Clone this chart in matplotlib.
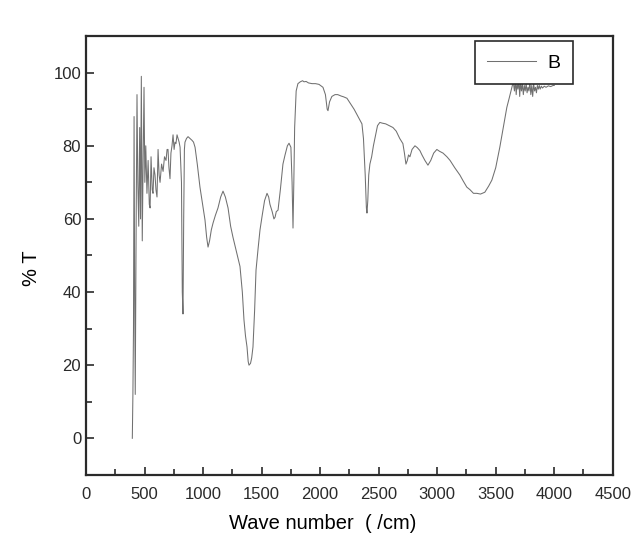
import matplotlib
matplotlib.use("Agg")
import matplotlib.pyplot as plt
from matplotlib.ticker import MultipleLocator

plt.rcParams['font.family'] = ['Liberation Sans', 'DejaVu Sans']

# IR transmission spectrum, series "B"
wavenumber = [
    395, 400, 405, 410, 415, 420, 428, 435, 442, 450, 458, 465, 472, 480, 487, 495,
    502, 510, 520, 530, 540, 547, 555, 565, 572, 580, 589, 597, 606, 615, 624, 632,
    645, 658, 670, 683, 692, 700, 708, 717, 725, 734, 743, 752, 760, 768, 777, 786,
    795, 803, 815, 822, 828, 834, 840, 845, 858, 871, 888, 905, 918, 931, 950, 973,
    995, 1016, 1030, 1042, 1055, 1070, 1085, 1105, 1127, 1150, 1170, 1190, 1213,
    1235, 1255, 1285, 1315, 1335, 1349, 1362, 1375, 1385, 1392, 1405, 1415, 1426,
    1440, 1452, 1470, 1486, 1505, 1525, 1546, 1560, 1571, 1590, 1605, 1615, 1625,
    1640, 1660, 1682, 1700, 1720, 1734, 1750, 1760, 1768, 1775, 1782, 1795, 1810,
    1830, 1850, 1862, 1880, 1900, 1930, 1960, 1990, 2024, 2045, 2060, 2067, 2080,
    2100, 2127, 2150, 2180, 2200, 2229, 2260, 2290, 2323, 2340, 2357, 2370, 2385,
    2395, 2400, 2407, 2415, 2425, 2440, 2455, 2468, 2490, 2510, 2530, 2560, 2590,
    2622, 2650, 2680, 2707, 2720, 2733, 2745, 2755, 2767, 2785, 2810, 2830, 2852,
    2870, 2895, 2921, 2945, 2970, 2997, 3020, 3050, 3083, 3110, 3150, 3194, 3220,
    3253, 3280, 3310, 3339, 3370, 3407, 3440, 3467, 3500, 3535, 3565, 3595, 3615,
    3638, 3650, 3660, 3668, 3675, 3682, 3690, 3698, 3705, 3712, 3720, 3728, 3736,
    3744, 3752, 3760, 3768, 3776, 3784, 3792, 3800, 3808, 3816, 3824, 3832, 3840,
    3848, 3856, 3864, 3872, 3880, 3890, 3900, 3915, 3930, 3950, 3970, 3990, 4000,
]
transmittance = [
    0, 12, 30, 88, 40, 12, 60, 94, 70, 58, 85, 60, 99, 54, 75, 96,
    70, 80, 67, 76, 64, 63, 77, 68, 67, 74, 72, 68, 66, 79, 72, 70,
    75, 73, 77, 76, 79, 79, 74, 71, 78, 80, 83, 79, 81, 80.6, 83, 82,
    81, 79.6, 70, 40, 34, 60, 79, 81, 82, 82.5, 82, 81.5, 81, 79.6, 75, 68.7,
    64, 59.7, 55, 52.3, 54, 57, 58.9, 61, 63, 66, 67.6, 66, 63,
    58, 55, 51, 47, 40, 32.4, 28, 25, 21, 20, 20.5, 22, 25,
    35, 46, 52, 57, 61, 65, 67, 66, 64, 62, 60, 60.5, 62,
    62.4, 68, 75, 77.5, 80, 80.7, 79.6, 70, 57.5, 70, 85, 95, 97,
    97.5, 97.8, 97.5, 97.6, 97.2, 97, 97, 96.8, 96, 94, 90, 89.6, 92,
    93.5, 94, 94, 93.6, 93.4, 93, 91.5, 90, 88, 87, 86, 82, 72,
    63, 61.6, 65, 72, 75, 77, 80, 82, 85.5, 86.4, 86.2, 86, 85.5,
    85, 84, 82, 80.6, 78, 75, 76, 77.5, 77, 79, 80, 79.5, 78.7,
    77.5, 76, 74.7, 76, 78, 79, 78.5, 78, 77, 76, 74, 72, 70.5,
    68.7, 68, 67, 67, 66.8, 67.3, 69, 70.6, 74, 79.6, 85, 90.5, 93,
    96, 97.5, 95, 98, 94, 97, 95.5, 98, 93.5, 97.5, 95, 97, 94,
    96.5, 95, 97, 94.5, 96, 95, 97.5, 94, 96.5, 93.5, 97, 95, 96,
    94.5, 96.5, 95.5, 96.5, 95.5, 96.3, 95.8, 96.3, 96, 96.4, 96.2, 96.5, 96.5,
]

fig = plt.figure(figsize=(6.33, 5.39), dpi=100)
ax = fig.add_axes([0.136, 0.119, 0.832, 0.814])

ax.plot(wavenumber, transmittance, color="#707070", lw=0.75, label="B")

ax.set_xlim(0, 4500)
ax.set_ylim(-10, 110)
ax.xaxis.set_major_locator(MultipleLocator(500))
ax.xaxis.set_minor_locator(MultipleLocator(250))
ax.yaxis.set_major_locator(MultipleLocator(20))
ax.yaxis.set_minor_locator(MultipleLocator(10))
ax.tick_params(which="both", direction="in", colors="#2a2a2a", labelsize=12,
               top=False, right=False, width=1.2)
ax.tick_params(which="major", length=6)
ax.tick_params(which="minor", length=4)
ax.tick_params(axis="x", which="major", pad=9)
for s in ax.spines.values():
    s.set_linewidth(1.6)
    s.set_color("#2a2a2a")

ax.set_xlabel("Wave number  ( /cm)", fontsize=14.5)
ax.xaxis.set_label_coords(0.45, -0.09)
ax.set_ylabel("% T", fontsize=14.5)
ax.yaxis.set_label_coords(-0.085, 0.47)

leg = ax.legend(loc="upper right", bbox_to_anchor=(0.925, 0.988), fontsize=14,
                fancybox=False, edgecolor="#2a2a2a", framealpha=1,
                handlelength=2.5, handletextpad=0.6, borderpad=0.65,
                borderaxespad=0)
leg.get_frame().set_linewidth(1.2)

fig.savefig("out.png", dpi=100)
